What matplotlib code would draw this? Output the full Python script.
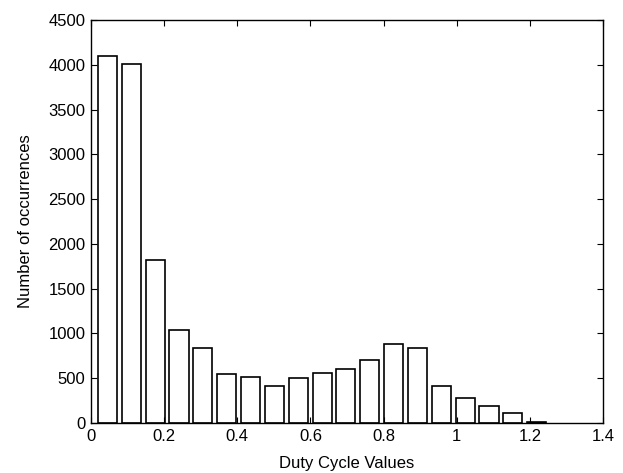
import numpy as np
import matplotlib.pyplot as plt
plt.rcParams.update({'font.size': 12, 'font.family': 'Liberation Sans'})

# histogram bins (matlab-style hist, last visible bin near 1.22)
bin_start = 0.045
bin_step = 0.0652
counts = [4100, 4010, 1825, 1040, 840, 550, 518, 415, 508, 562,
          600, 705, 878, 835, 418, 283, 190, 108, 14]
centers = bin_start + bin_step*np.arange(len(counts))

fig = plt.figure(figsize = (6.23, 4.73), dpi = 100)
ax = fig.add_axes([91/623, 50/473, 512/623, 403/473])

ax.bar(centers, counts, width = 0.8*bin_step, color = "white", edgecolor = "black", linewidth = 1.2)

ax.set_xlim(0, 1.4)
ax.set_ylim(0, 4500)
ax.set_xticks(np.arange(0, 1.41, 0.2))
ax.set_xticklabels(["0", "0.2", "0.4", "0.6", "0.8", "1", "1.2", "1.4"])
ax.set_yticks(np.arange(0, 4501, 500))
ax.tick_params(direction = "in", top = True, right = True, length = 4, width = 0.8, pad = 4)
for s in ax.spines.values():
    s.set_linewidth(1.0)

ax.set_xlabel("Duty Cycle Values", labelpad = 9)
ax.set_ylabel("Number of occurrences", labelpad = 11)

fig.savefig("out.png", dpi = 100)
